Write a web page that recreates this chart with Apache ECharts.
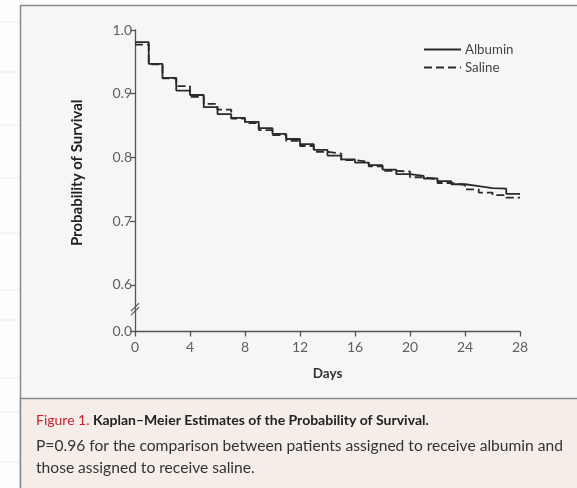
<!DOCTYPE html>
<html>
<head>
<meta charset="utf-8">
<script src="https://cdn.jsdelivr.net/npm/echarts@6/dist/echarts.min.js"></script>
<style>
html,body{margin:0;padding:0;background:#fdfdfd;}
#c{width:577px;height:488px;}
</style>
</head>
<body>
<div id="c"></div>
<script>
// ---- data ----
const days = [0,1,2,3,4,5,6,7,8,9,10,11,12,13,14,15,16,17,18,19,20,21,22,23,24,25,26,27,28];
const albumin = [0.981,0.947,0.925,0.905,0.898,0.879,0.868,0.862,0.856,0.846,0.837,0.829,0.821,0.812,0.803,0.797,0.792,0.788,0.781,0.774,0.771,0.767,0.763,0.758,0.755,0.752,0.751,0.743,0.743];
const saline  = [0.977,0.946,0.924,0.912,0.895,0.884,0.875,0.861,0.854,0.843,0.835,0.826,0.818,0.809,0.806,0.796,0.793,0.786,0.779,0.778,0.769,0.766,0.760,0.757,0.750,0.745,0.741,0.737,0.737];
const xTicks = [0,4,8,12,16,20,24,28];
const yTicks = [0.527,0.6,0.7,0.8,0.9,1.0];
const yTickLabels = ['0.0','0.6','0.7','0.8','0.9','1.0'];
const seriesNames = ['Albumin','Saline'];
const captionTitle = 'Kaplan–Meier Estimates of the Probability of Survival.';
const captionFig = 'Figure 1.';
const captionBody = ['P=0.96 for the comparison between patients assigned to receive albumin and','those assigned to receive saline.'];

const FONT = 'Lato, "Open Sans", sans-serif';
const TICKFONT = 'Lato, "Open Sans", sans-serif';
const chart = echarts.init(document.getElementById('c'));

const pageLines = [22,72,125,178,233,290,320,378,412,462].map(y => ({
  type:'line', z:-20, shape:{x1:0,y1:y,x2:20,y2:y}, style:{stroke:'#ececec',lineWidth:1}
}));

const option = {
  backgroundColor:'#fdfdfd',
  animation:false,
  textStyle:{fontFamily:FONT},
  grid:{left:135,right:57,top:30,bottom:156.5,containLabel:false},
  legend:{
    data:seriesNames, orient:'vertical', left:418, top:38, itemWidth:37, itemHeight:10, itemGap:5,
    itemStyle:{opacity:0},
    textStyle:{fontFamily:TICKFONT,fontSize:13.3,color:'#444',padding:[0,0,0,-1]}
  },
  xAxis:{
    type:'value', min:0, max:28, interval:4,
    name:'Days', nameLocation:'middle', nameGap:35,
    nameTextStyle:{fontFamily:FONT,fontWeight:'bold',fontSize:13.5,color:'#333'},
    axisLine:{lineStyle:{color:'#555',width:1.3}},
    axisTick:{show:true,length:5,lineStyle:{color:'#555',width:1.3}},
    axisLabel:{color:'#606060',fontSize:14,margin:9,fontFamily:TICKFONT,
      customValues:xTicks},
    splitLine:{show:false}
  },
  yAxis:{
    type:'value', min:0.527, max:1.0,
    name:'Probability of Survival', nameLocation:'middle', nameGap:50,
    nameTextStyle:{fontFamily:FONT,fontWeight:'bold',fontSize:15,color:'#222',padding:[0,0,0,16]},
    axisLine:{show:true,lineStyle:{color:'#555',width:1.3}},
    axisTick:{show:true,length:5,customValues:yTicks,lineStyle:{color:'#555',width:1.3}},
    axisLabel:{color:'#606060',fontSize:14,margin:3,fontFamily:TICKFONT,customValues:yTicks,
      formatter:v=>{const i=yTicks.findIndex(t=>Math.abs(t-v)<1e-6);return i>=0?yTickLabels[i]:'';}},
    splitLine:{show:false}
  },
  series:[
    {name:seriesNames[0],type:'line',step:'end',symbol:'none',showSymbol:false,data:days.map((d,i)=>[d,albumin[i]]),
     lineStyle:{color:'#2a2a2a',width:1.8,type:'solid'},itemStyle:{color:'#2a2a2a'},z:3},
    {name:seriesNames[1],type:'line',step:'end',symbol:'none',showSymbol:false,data:days.map((d,i)=>[d,saline[i]]),
     lineStyle:{color:'#2a2a2a',width:1.8,type:[8,4]},itemStyle:{color:'#2a2a2a'},z:2}
  ],
  graphic:[
    ...pageLines,
    {type:'rect',z:-10,shape:{x:20.5,y:5.5,width:570,height:500},style:{fill:'#f6f6f6',stroke:'#8a8a8a',lineWidth:1.5}},
    {type:'rect',z:-9,shape:{x:20.5,y:398.5,width:570,height:100},style:{fill:'#f5ede7',stroke:'#8a8a8a',lineWidth:1.5}},
    {type:'text',z:5,left:36,top:413,style:{
      text:'{r|'+captionFig+'} {b|'+captionTitle+'}',
      rich:{r:{fill:'#c8232f',fontSize:14,fontFamily:FONT,fontWeight:'normal'},
            b:{fill:'#222',fontSize:14,fontFamily:FONT,fontWeight:'bold'}}
    }},
    {type:'text',z:5,left:36,top:435.5,style:{
      text:captionBody.join('\n'),fill:'#333',fontSize:15.6,fontFamily:FONT,lineHeight:21.5
    }}
  ]
};
chart.setOption(option);

// axis-break marks drawn at a data position via the axis scale
const bp = chart.convertToPixel({xAxisIndex:0,yAxisIndex:0},[0,0.562]);
chart.setOption({graphic:[
  ...option.graphic,
  {type:'line',z:10,shape:{x1:bp[0]-4,y1:bp[1]+2,x2:bp[0]+4,y2:bp[1]-6},style:{stroke:'#555',lineWidth:1.2}},
  {type:'line',z:10,shape:{x1:bp[0]-4,y1:bp[1]+6,x2:bp[0]+4,y2:bp[1]-2},style:{stroke:'#555',lineWidth:1.2}}
]}, {replaceMerge:['graphic']});
</script>
</body>
</html>
